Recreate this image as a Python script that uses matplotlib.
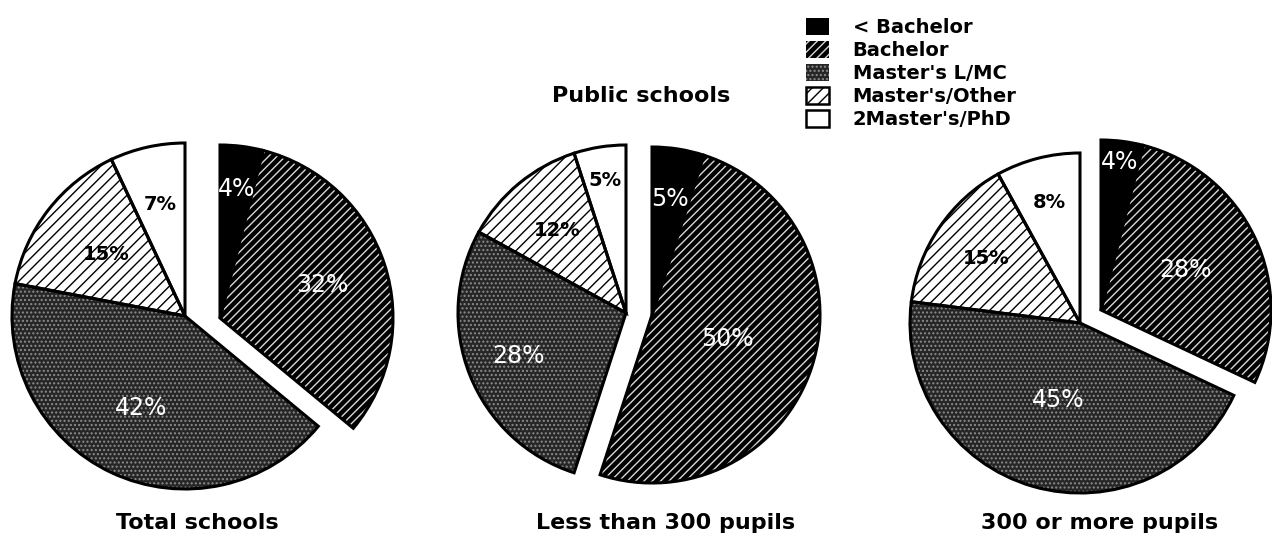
import numpy as np
import matplotlib
matplotlib.use("Agg")
import matplotlib.pyplot as plt
from matplotlib.patches import Patch

# ---------------- data ----------------
categories = ["< Bachelor", "Bachelor", "Master's L/MC", "Master's/Other", "2Master's/PhD"]
total_schools = [4, 32, 42, 15, 7]
less_than_300 = [5, 50, 28, 12, 5]
more_than_300 = [4, 28, 45, 15, 8]
panel_titles = ["Total schools", "Less than 300 pupils", "300 or more pupils"]
main_title = "Public schools"

# ---------------- styling / layout ----------------
W, H = 1272, 539
face_colors = ["black", "black", "#262626", "white", "white"]
hatches = [None, "////", "....", "///", None]
hatch_colors = ["black", "#d8d8d8", "#8c8c8c", "black", "black"]
label_colors = ["white", "white", "white", "black", "black"]
label_weights = ["normal", "normal", "normal", "bold", "bold"]

# pixel layout (y measured from top): center x, center y, radius, explode shift
pie_layout = [
    (185, 316, 173, (35, 2)),
    (626, 313, 168, (26, 2)),
    (1080, 323, 170, (21, -13)),
]
label_frac = [
    [0.75, 0.62, 0.59, 0.58, 0.66],
    [0.70, 0.47, 0.69, 0.64, 0.80],
    [0.88, 0.55, 0.47, 0.67, 0.73],
]
subtitle_x = [197, 666, 1100]
subtitle_y = 523

plt.rcParams["hatch.linewidth"] = 1.0

fig = plt.figure(figsize=(12.72, 5.39), dpi=100)
ax = fig.add_axes([0, 0, 1, 1])

series = [total_schools, less_than_300, more_than_300]
for vals, (cx, cy, r, (sx, sy)), fracs, sub, subx in zip(series, pie_layout, label_frac,
                                                         panel_titles, subtitle_x):
    center = (cx, H - cy)
    fills, _ = ax.pie(vals, radius=r, center=center, startangle=90, counterclock=False,
                      colors=face_colors, frame=True,
                      wedgeprops=dict(linewidth=0))
    outlines, _ = ax.pie(vals, radius=r, center=center, startangle=90, counterclock=False,
                         frame=True,
                         wedgeprops=dict(fill=False, edgecolor="black", linewidth=2.2))
    for i, (wf, wo) in enumerate(zip(fills, outlines)):
        if hatches[i]:
            wf.set_hatch(hatches[i])
            wf.set_edgecolor(hatch_colors[i])
            wf.set_linewidth(0)
        c = np.array(center, dtype=float)
        if i < 2:
            c = c + np.array([sx, -sy])
            wf.set_center(tuple(c))
            wo.set_center(tuple(c))
        theta = np.deg2rad((wf.theta1 + wf.theta2) / 2)
        px = c[0] + fracs[i] * r * np.cos(theta)
        py = c[1] + fracs[i] * r * np.sin(theta)
        if label_weights[i] == "bold":
            ax.text(px, py, f"{vals[i]}%", ha="center", va="center", color=label_colors[i],
                    fontsize=14, fontweight="bold", family="DejaVu Sans", zorder=5)
        else:
            ax.text(px, py, f"{vals[i]}%", ha="center", va="center", color=label_colors[i],
                    fontsize=17, family="DejaVu Sans", zorder=5)
    ax.text(subx, H - subtitle_y, sub, ha="center", va="center", fontsize=16,
            fontweight="bold", family="DejaVu Sans")

ax.text(641, H - 96, main_title, ha="center", va="center", fontsize=16,
        fontweight="bold", family="DejaVu Sans")

ax.set_xlim(0, W)
ax.set_ylim(0, H)
ax.set_aspect("equal")
ax.axis("off")

handles = [
    Patch(facecolor="black", edgecolor="black", linewidth=0),
    Patch(facecolor="black", edgecolor="#d8d8d8", hatch="////", linewidth=0),
    Patch(facecolor="#262626", edgecolor="#8c8c8c", hatch="....", linewidth=0),
    Patch(facecolor="white", edgecolor="black", hatch="///", linewidth=1.8),
    Patch(facecolor="white", edgecolor="black", linewidth=1.8),
]
fig.legend(handles, categories, loc="upper left", bbox_to_anchor=(806 / W, 1 - 18 / H),
           frameon=False, prop=dict(family="DejaVu Sans", weight="bold", size=14),
           handlelength=1.2, handleheight=0.95, handletextpad=1.2, labelspacing=0.2,
           borderpad=0, borderaxespad=0)

fig.savefig("out.png", dpi=100)
